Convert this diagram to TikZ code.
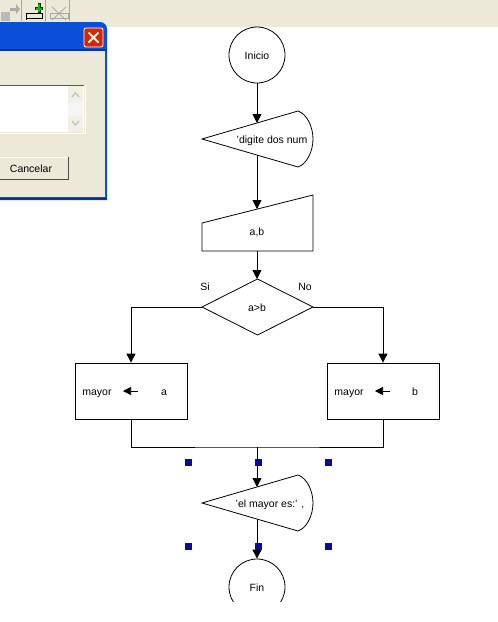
\documentclass[tikz,border=0pt]{standalone}
\usepackage{fontspec}
\setmainfont{Liberation Sans}
\usetikzlibrary{arrows.meta}
\definecolor{xpbg}{HTML}{ECE9D8}
\definecolor{xpblue}{HTML}{0A4FD8}
\definecolor{xpdark}{HTML}{0831A8}
\definecolor{handle}{HTML}{0A0AA0}
\begin{document}
\begin{tikzpicture}[x=1pt,y=-1pt,
  every node/.style={font=\fontsize{10.5}{12}\selectfont,inner sep=0pt},
  shapeline/.style={draw=black,line width=0.8pt},
  conn/.style={draw=black,line width=0.9pt},
  flow/.style={conn,-{Triangle[length=9pt,width=9pt]}},
  handlebox/.style={fill=handle,draw=none,minimum size=7pt,inner sep=0pt},
  lab/.style={text=black,anchor=base}]
\useasboundingbox (0,0) rectangle (498,622);
\fill[white] (0,0) rectangle (498,622);
% toolbar
\fill[xpbg] (0,0) rectangle (498,27);
\foreach \x in {21,45,69}{\draw[gray!70,line width=0.7pt] (\x,0) -- (\x,21);}
\fill[gray!55] (1,12) rectangle (10,21);
\fill[gray!65] (10,8) -- (16,8) -- (16,4) -- (20,9) -- (16,14) -- (16,11) -- (10,11) -- cycle;
\draw[black,line width=0.8pt,fill=xpbg] (26,13) rectangle (42,18);
\draw[black,line width=0.8pt] (26,18) -- (26,20);
\fill[black!80!green] (35,7) rectangle (43,10);
\fill[black!80!green] (37.5,3) rectangle (40.5,13);
\fill[green!75!black] (36,7.5) rectangle (42,9.5);
\fill[green!75!black] (38,4) rectangle (40,12);
\draw[gray!70,line width=0.8pt] (50,13) rectangle (68,18);
\draw[gray!70,line width=0.8pt] (52,7) -- (66,20) (66,7) -- (52,20);
% dialog
\fill[xpblue] (0,22) -- (100,22) .. controls (104,22) and (107,25) .. (107,29) -- (107,200) -- (0,200) -- cycle;
\fill[xpdark] (0,198) rectangle (107,200);
\fill[xpdark] (0,49) rectangle (107,51);
\fill[xpbg] (0,51) rectangle (104.5,197);
\draw[white,rounded corners=2pt,line width=0.8pt,fill=red!65!orange!85!black] (84,28) rectangle (103,47);
\draw[white,line width=2pt] (88.5,32.5) -- (98.5,42.5) (98.5,32.5) -- (88.5,42.5);
% list box
\fill[white] (0,85) rectangle (84,132);
\draw[gray!70!black,line width=0.8pt] (0,85) -- (84,85);
\draw[white,line width=0.8pt] (0,133) -- (85,133) -- (85,85);
\fill[gray!8] (68,86) rectangle (83,132);
\fill[xpbg!70!white] (68,86) rectangle (83,102);
\fill[xpbg!70!white] (68,116) rectangle (83,132);
\draw[gray!55,line width=1pt] (72,97) -- (75.5,93) -- (79,97);
\draw[gray!55,line width=1pt] (72,121) -- (75.5,125) -- (79,121);
% cancel button
\draw[gray!60!black,line width=1.1pt] (0,179.5) -- (68.5,179.5) -- (68.5,157);
\draw[white,line width=0.6pt] (0,157.3) -- (67.5,157.3);
\node[lab] (cancelar) at (31,172) {Cancelar};

% flowchart shapes
\node[shapeline,circle,minimum size=56pt] (inicio) at (257,55) {};
\node[lab] (inicio t) at (257,59) {Inicio};
\draw[shapeline] (202,139) -- (298,111) .. controls (307,114) and (313,127) .. (313,139)
   .. controls (313,151) and (307,164) .. (298,167) -- cycle;
\node[lab] (d1) at (272,143) {'digite dos num};
\coordinate (d1top) at (257,123);
\coordinate (d1bot) at (257,155);
\draw[shapeline] (202,223) -- (313,195) -- (313,251) -- (202,251) -- cycle;
\node[lab] (ab) at (257,235) {a,b};
\coordinate (abtop) at (257,209);
\coordinate (abbot) at (257,251);
\draw[shapeline] (202,307) -- (257.5,279) -- (313,307) -- (257.5,335) -- cycle;
\node[lab] (cond) at (257,311) {a>b};
\coordinate (ctop) at (257,279);
\coordinate (cl) at (202,307);
\coordinate (cr) at (313,307);
\node[shapeline,minimum width=112pt,minimum height=56pt] (boxa) at (131,391) {};
\node[shapeline,minimum width=112pt,minimum height=56pt] (boxb) at (383,391) {};
\node[lab] (m1) at (97,395) {mayor};
\node[lab] (va) at (164,395) {a};
\node[lab] (m2) at (349,395) {mayor};
\node[lab] (vb) at (415,395) {b};
\coordinate (a1s) at (138,391); \coordinate (a1e) at (123,391);
\coordinate (a2s) at (390,391); \coordinate (a2e) at (375,391);
\draw[line width=0.7pt,-{Triangle[length=8pt,width=8pt]}] (a1s) -- (a1e);
\draw[line width=0.7pt,-{Triangle[length=8pt,width=8pt]}] (a2s) -- (a2e);
\node[lab] (si) at (205,290) {Si};
\node[lab] (no) at (305,290) {No};
\draw[shapeline] (202,503) -- (298,475) .. controls (307,478) and (313,491) .. (313,503)
   .. controls (313,515) and (307,528) .. (298,531) -- cycle;
\node[lab] (d2) at (270,507) {'el mayor es:' ,};
\coordinate (d2top) at (257,487);
\coordinate (d2bot) at (257,519);
\begin{scope}
\clip (220,550) rectangle (295,601);
\node[shapeline,circle,minimum size=56pt] (fin) at (257,587) {};
\end{scope}
\node[lab] (fint) at (257,591) {Fin};
\coordinate (merge) at (257,447);
% connectors
\draw[flow] (inicio.south) -- (d1top);
\draw[flow] (d1bot) -- (abtop);
\draw[flow] (abbot) -- (ctop);
\draw[flow] (cl) -| (boxa.north);
\draw[flow] (cr) -| (boxb.north);
\draw[conn] (boxa.south) |- (merge) -| (boxb.south);
\draw[flow] (merge) -- (d2top);
\draw[flow] (d2bot) -- (fin.north);
% selection handles
\foreach \n/\x/\y in {h1/188/462,h2/258/462,h3/328/462,h4/188/546,h5/258/546,h6/328/546}{
  \node[handlebox] (\n) at (\x,\y) {};
}
\end{tikzpicture}
\end{document}
